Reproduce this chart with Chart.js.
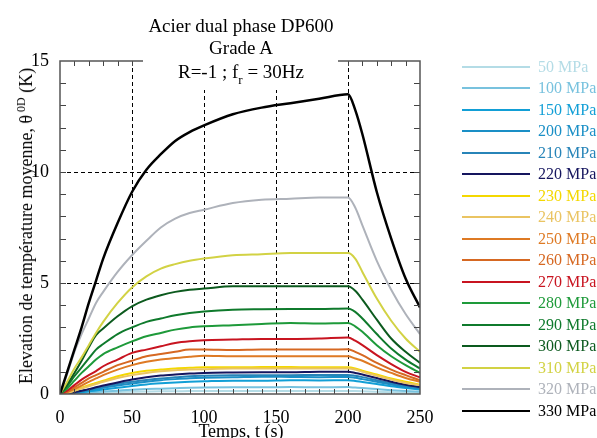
<!DOCTYPE html>
<html>
<head>
<meta charset="utf-8">
<script src="https://cdn.jsdelivr.net/npm/chart.js@4/dist/chart.umd.min.js"></script>
<style>
  html, body { margin: 0; padding: 0; background: #fff; }
  #wrap { position: relative; width: 597px; height: 438px; overflow: hidden; font-family: 'Liberation Serif', 'Times New Roman', serif; }
  canvas { position: absolute; left: 0; top: 0; }
  .t { position: absolute; white-space: nowrap; color: #000; }
  #titlebg { position: absolute; left: 143px; top: 0; width: 195px; height: 90px; background: #fff; }
  .title { font-size: 19px; line-height: 19px; left: 0; width: 482px; text-align: center; }
  #legend { position: absolute; left: 462px; top: 0; }
  .li { position: absolute; left: 0; height: 16px; display: flex; align-items: center; font-size: 16px; line-height: 16px; white-space: nowrap; }
  .li span.ln { display: inline-block; width: 68px; height: 2px; margin-right: 8px; }
</style>
</head>
<body>
<div id="wrap">
  <canvas id="c" width="597" height="438"></canvas>
  <div id="titlebg"></div>
  <div class="t title" style="top:16px">Acier dual phase DP600</div>
  <div class="t title" style="top:38px">Grade A</div>
  <div class="t title" style="top:62px">R=-1 ; f<sub style="font-size:13px;vertical-align:-6px;line-height:0">r</sub> = 30Hz</div>
  <div class="t" id="xtitle" style="font-size:18px;line-height:18px;left:0;width:482px;text-align:center;top:422px">Temps, t (s)</div>
  <div class="t" id="ytitle" style="font-size:18px;line-height:18px;left:26px;top:226px;transform:translate(-50%,-50%) rotate(-90deg);">Elevation de température moyenne, θ<sup style="font-size:12px;vertical-align:7px;line-height:0"> 0D</sup> (K)</div>
  <div id="legend"></div>
</div>
<script>
// ---- Data ----
const times = [0, 5, 10, 15, 20, 25, 30, 40, 50, 60, 70, 80, 90, 100, 120, 140, 160, 180, 200, 205, 210, 220, 230, 240, 250];
const stressLabels = ['50 MPa','100 MPa','150 MPa','200 MPa','210 MPa','220 MPa','230 MPa','240 MPa','250 MPa','260 MPa','270 MPa','280 MPa','290 MPa','300 MPa','310 MPa','320 MPa','330 MPa'];
const s50  = [0, 0.01, 0.02, 0.03, 0.05, 0.06, 0.07, 0.09, 0.1, 0.11, 0.12, 0.12, 0.13, 0.13, 0.13, 0.14, 0.13, 0.14, 0.14, 0.13, 0.12, 0.1, 0.08, 0.06, 0.05];
const s100 = [0, 0.01, 0.03, 0.05, 0.07, 0.09, 0.11, 0.15, 0.19, 0.22, 0.24, 0.26, 0.28, 0.29, 0.3, 0.3, 0.31, 0.3, 0.31, 0.29, 0.27, 0.22, 0.17, 0.13, 0.1];
const s150 = [0, 0.02, 0.05, 0.08, 0.12, 0.16, 0.2, 0.28, 0.36, 0.43, 0.48, 0.52, 0.55, 0.57, 0.6, 0.6, 0.62, 0.61, 0.62, 0.59, 0.54, 0.45, 0.35, 0.27, 0.2];
const s200 = [0, 0.02, 0.06, 0.11, 0.17, 0.22, 0.28, 0.38, 0.47, 0.55, 0.62, 0.67, 0.71, 0.73, 0.75, 0.78, 0.77, 0.76, 0.77, 0.73, 0.67, 0.55, 0.43, 0.33, 0.25];
const s210 = [0, 0.03, 0.08, 0.14, 0.2, 0.27, 0.33, 0.45, 0.55, 0.63, 0.7, 0.75, 0.8, 0.82, 0.84, 0.85, 0.85, 0.86, 0.86, 0.82, 0.76, 0.62, 0.48, 0.37, 0.28];
const s220 = [0, 0.03, 0.08, 0.15, 0.22, 0.3, 0.38, 0.52, 0.65, 0.75, 0.83, 0.88, 0.92, 0.95, 0.97, 0.98, 0.98, 1.0, 1.0, 0.95, 0.88, 0.72, 0.55, 0.42, 0.32];
const s230 = [0, 0.05, 0.15, 0.28, 0.4, 0.5, 0.6, 0.8, 0.95, 1.05, 1.1, 1.15, 1.18, 1.2, 1.2, 1.22, 1.22, 1.2, 1.2, 1.15, 1.05, 0.88, 0.7, 0.55, 0.42];
const s240 = [0, 0.05, 0.15, 0.25, 0.35, 0.45, 0.55, 0.72, 0.85, 0.95, 1.02, 1.07, 1.1, 1.12, 1.15, 1.15, 1.15, 1.15, 1.15, 1.1, 1.0, 0.82, 0.65, 0.5, 0.4];
const s250 = [0, 0.08, 0.22, 0.38, 0.55, 0.7, 0.85, 1.1, 1.3, 1.45, 1.55, 1.62, 1.68, 1.72, 1.7, 1.7, 1.7, 1.7, 1.7, 1.6, 1.5, 1.2, 0.95, 0.72, 0.55];
const s260 = [0, 0.1, 0.3, 0.5, 0.7, 0.85, 1.0, 1.3, 1.5, 1.7, 1.8, 1.9, 2.0, 2.0, 1.98, 2.0, 2.0, 2.0, 2.02, 1.9, 1.75, 1.4, 1.1, 0.85, 0.62];
const s270 = [0, 0.15, 0.4, 0.65, 0.85, 1.03, 1.25, 1.55, 1.85, 2.0, 2.15, 2.3, 2.38, 2.42, 2.45, 2.48, 2.48, 2.5, 2.55, 2.4, 2.2, 1.75, 1.35, 1.0, 0.75];
const s280 = [0, 0.25, 0.6, 0.95, 1.25, 1.55, 1.8, 2.1, 2.37, 2.6, 2.75, 2.9, 3.0, 3.05, 3.1, 3.15, 3.2, 3.18, 3.2, 3.05, 2.8, 2.2, 1.7, 1.3, 0.95];
const s290 = [0, 0.35, 0.8, 1.2, 1.6, 2.0, 2.25, 2.7, 3.0, 3.25, 3.4, 3.55, 3.65, 3.72, 3.8, 3.82, 3.83, 3.83, 3.85, 3.7, 3.4, 2.7, 2.05, 1.55, 1.15];
const s300 = [0, 0.45, 0.95, 1.5, 2.1, 2.65, 2.95, 3.5, 3.95, 4.25, 4.45, 4.6, 4.7, 4.75, 4.85, 4.85, 4.85, 4.85, 4.85, 4.65, 4.25, 3.35, 2.5, 1.9, 1.4];
const s310 = [0, 0.55, 1.15, 1.65, 2.2, 2.75, 3.25, 4.1, 4.8, 5.3, 5.65, 5.85, 6.0, 6.1, 6.25, 6.3, 6.35, 6.35, 6.35, 6.1, 5.5, 4.3, 3.3, 2.5, 1.9];
const s320 = [0, 0.9, 1.9, 2.7, 3.4, 4.1, 4.6, 5.5, 6.25, 6.9, 7.5, 7.9, 8.15, 8.3, 8.6, 8.75, 8.8, 8.85, 8.85, 8.4, 7.6, 6.0, 4.7, 3.6, 2.7];
const s330 = [0, 1.0, 2.0, 3.0, 4.1, 5.1, 6.1, 7.7, 9.1, 10.1, 10.8, 11.4, 11.8, 12.1, 12.6, 12.9, 13.1, 13.3, 13.5, 12.8, 11.7, 9.1, 7.0, 5.2, 3.9];
const seriesValues = [s50, s100, s150, s200, s210, s220, s230, s240, s250, s260, s270, s280, s290, s300, s310, s320, s330];
const seriesColors = ['#b4dce6','#78c2de','#129fd6','#1a8fc6','#2784b8','#15155e','#f4d800','#eac462','#de7a24','#d66822','#c81420','#1e9a3a','#0f7a2c','#0c5a1e','#d2d244','#aeb2ba','#000000'];
const xTicks = [0, 50, 100, 150, 200, 250];
const yTicks = [0, 5, 10, 15];

// ---- Legend (HTML) ----
const legend = document.getElementById('legend');
stressLabels.forEach((lab, i) => {
  const d = document.createElement('div');
  d.className = 'li';
  d.style.top = (66.7 + 21.5 * i - 8) + 'px';
  d.style.color = seriesColors[i];
  d.innerHTML = '<span class="ln" style="background:' + seriesColors[i] + '"></span>' + lab;
  legend.appendChild(d);
});

// ---- Frame / dashed grid / inward ticks plugin ----
const framePlugin = {
  id: 'frame',
  beforeDatasetsDraw(chart) {
    const { ctx, chartArea: a, scales: { x, y } } = chart;
    ctx.save();
    ctx.strokeStyle = '#000';
    ctx.lineWidth = 1;
    ctx.setLineDash([4, 3]);
    [50, 100, 150, 200].forEach(v => {
      const px = Math.round(x.getPixelForValue(v)) + 0.5;
      ctx.beginPath(); ctx.moveTo(px, a.top); ctx.lineTo(px, a.bottom); ctx.stroke();
    });
    [5, 10].forEach(v => {
      const py = Math.round(y.getPixelForValue(v)) + 0.5;
      ctx.beginPath(); ctx.moveTo(a.left, py); ctx.lineTo(a.right, py); ctx.stroke();
    });
    ctx.restore();
  },
  afterDatasetsDraw(chart) {
    const { ctx, chartArea: a, scales: { x, y } } = chart;
    ctx.save();
    ctx.strokeStyle = '#444';
    ctx.lineWidth = 1;
    ctx.setLineDash([]);
    for (let v = 10; v < 250; v += 10) {
      const px = Math.round(x.getPixelForValue(v)) + 0.5;
      ctx.beginPath(); ctx.moveTo(px, a.bottom); ctx.lineTo(px, a.bottom - 5); ctx.stroke();
      ctx.beginPath(); ctx.moveTo(px, a.top); ctx.lineTo(px, a.top + 5); ctx.stroke();
    }
    for (let v = 1; v < 15; v += 1) {
      const py = Math.round(y.getPixelForValue(v)) + 0.5;
      ctx.beginPath(); ctx.moveTo(a.left, py); ctx.lineTo(a.left + 6, py); ctx.stroke();
      ctx.beginPath(); ctx.moveTo(a.right, py); ctx.lineTo(a.right - 6, py); ctx.stroke();
    }
    ctx.strokeStyle = '#555';
    ctx.lineWidth = 1.5;
    ctx.strokeRect(a.left, a.top, a.right - a.left, a.bottom - a.top);
    ctx.restore();
  }
};

const datasets = seriesValues.map((vals, i) => ({
  label: stressLabels[i],
  data: times.map((t, k) => ({ x: t, y: vals[k] })),
  borderColor: seriesColors[i],
  backgroundColor: seriesColors[i],
  borderWidth: i === 16 ? 2.5 : 2,
  pointRadius: 0,
  fill: false,
  cubicInterpolationMode: 'monotone',
  order: 16 - i
}));

const tickFont = { family: "'Liberation Serif', 'Times New Roman', serif", size: 18 };

new Chart(document.getElementById('c'), {
  type: 'line',
  data: { datasets },
  options: {
    responsive: false,
    animation: false,
    layout: { padding: { left: 0, right: 177, top: 61, bottom: 0 } },
    plugins: { legend: { display: false }, title: { display: false }, tooltip: { enabled: false } },
    scales: {
      x: {
        type: 'linear', min: 0, max: 250,
        afterBuildTicks: s => { s.ticks = xTicks.map(v => ({ value: v })); },
        afterFit: s => { s.height = 44; },
        grid: { display: false },
        border: { display: false },
        ticks: { color: '#000', font: tickFont, padding: 5, maxRotation: 0 }
      },
      y: {
        type: 'linear', min: 0, max: 15,
        afterBuildTicks: s => { s.ticks = yTicks.map(v => ({ value: v })); },
        afterFit: s => { s.width = 60; },
        grid: { display: false },
        border: { display: false },
        ticks: { color: '#000', font: tickFont, padding: 3 }
      }
    }
  },
  plugins: [framePlugin]
});
</script>
</body>
</html>
